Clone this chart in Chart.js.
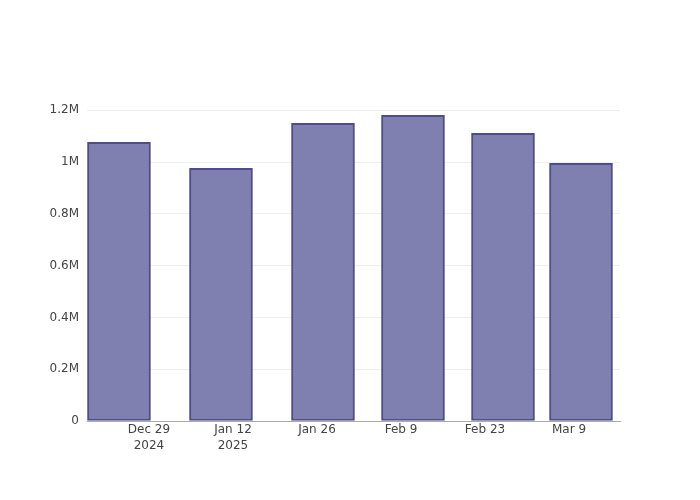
<!DOCTYPE html>
<html lang="en">
<head>
    <meta charset="UTF-8">
    <title>Bar chart</title>
    <script src="https://cdn.jsdelivr.net/npm/chart.js"></script>
    <style>
        body {
            margin: 0;
            padding: 0;
            background-color: #fff;
        }
    </style>
</head>
<body>
    <canvas id="barChart" width="700" height="500"></canvas>

    <script>
        // data
        const dates = ['2024-12-24', '2025-01-10', '2025-01-27', '2025-02-11', '2025-02-26', '2025-03-11'];
        const values = [1076000, 976000, 1150000, 1181000, 1111000, 995000];
        const tickDates = ['2024-12-29', '2025-01-12', '2025-01-26', '2025-02-09', '2025-02-23', '2025-03-09'];
        const tickLabels = [['Dec 29', '2024'], ['Jan 12', '2025'], 'Jan 26', 'Feb 9', 'Feb 23', 'Mar 9'];
        const yTicks = [0, 200000, 400000, 600000, 800000, 1000000, 1200000];

        // days since first tick, so a linear axis can stand in for a time axis
        const origin = Date.parse(tickDates[0]);
        const toDay = d => (Date.parse(d) - origin) / 86400000;

        const tickDays = tickDates.map(toDay);
        const points = dates.map((d, i) => ({ x: toDay(d), y: values[i] }));

        const ctx = document.getElementById('barChart').getContext('2d');
        new Chart(ctx, {
            type: 'bar',
            data: {
                datasets: [{
                    data: points,
                    backgroundColor: 'rgb(128, 128, 176)',
                    borderColor: 'rgb(78, 76, 142)',
                    borderWidth: 2,
                    borderSkipped: false,
                    barThickness: 63
                }]
            },
            options: {
                responsive: false,
                animation: false,
                layout: { padding: { left: 0, right: 80, top: 100, bottom: 0 } },
                plugins: {
                    legend: { display: false },
                    tooltip: { enabled: false }
                },
                scales: {
                    x: {
                        type: 'linear',
                        offset: false,
                        min: -10.33,
                        max: 78.5,
                        grid: { display: false, drawTicks: false },
                        border: { color: '#aaa', width: 1 },
                        afterBuildTicks: axis => {
                            axis.ticks = tickDays.map(v => ({ value: v }));
                        },
                        afterFit: axis => { axis.height = 79; },
                        ticks: {
                            autoSkip: false,
                            maxRotation: 0,
                            padding: 0,
                            color: '#444',
                            font: { family: 'DejaVu Sans', size: 12, lineHeight: 1.4 },
                            callback: value => {
                                const i = tickDays.indexOf(value);
                                return i >= 0 ? tickLabels[i] : '';
                            }
                        }
                    },
                    y: {
                        min: 0,
                        max: 1240000,
                        grid: { color: '#eee', drawTicks: false },
                        border: { display: false },
                        afterBuildTicks: axis => {
                            axis.ticks = yTicks.map(v => ({ value: v }));
                        },
                        afterFit: axis => { axis.width = 87; },
                        ticks: {
                            padding: 8,
                            color: '#444',
                            font: { family: 'DejaVu Sans', size: 12 },
                            callback: value => value === 0 ? '0' : (value / 1e6) + 'M'
                        }
                    }
                }
            }
        });
    </script>
</body>
</html>
